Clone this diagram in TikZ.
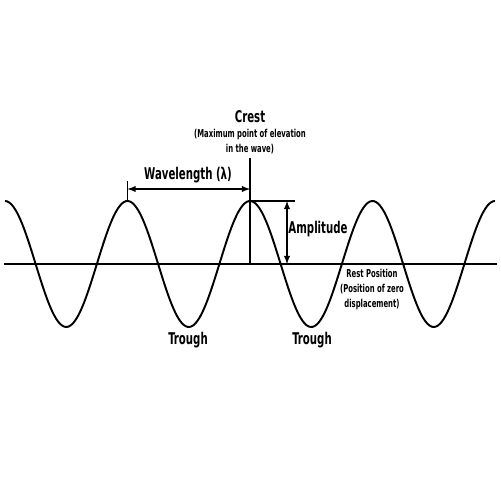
\documentclass[tikz,border=0pt]{standalone}
\usepackage{fontspec}
\newfontfamily\labelfont{DejaVu Sans Condensed Bold}[FakeStretch=0.7]
\usetikzlibrary{arrows.meta,positioning,calc}
\tikzset{>=latex}
\tikzset{
    big/.style={font=\labelfont\fontsize{9.2}{11}\selectfont,inner sep=0pt},
    small/.style={font=\labelfont\fontsize{6.2}{8.4}\selectfont,inner sep=0pt,align=center},
    guide/.style={line width=0.6pt},
    thick line/.style={line width=1.1pt}
}
\begin{document}
\begin{tikzpicture}[x=0.02cm,y=-0.02cm]

    \def\xStart{5}
    \def\xEnd{495}
    \def\yRest{264}
    \def\amp{63}
    \def\degPerPx{2.93878}
    \def\xCrestA{127.5}
    \def\xCrestB{250}

    \useasboundingbox (0,0) rectangle (500,500);

    % wave and rest line
    \draw[thick line] plot[domain=\xStart:\xEnd,samples=240,smooth]
        (\x,{\yRest-\amp*cos(\degPerPx*(\x-\xStart))});
    \draw[thick line] (4,\yRest) -- (497,\yRest);

    \coordinate (crestA) at (\xCrestA,\yRest-\amp);
    \coordinate (crestB) at (\xCrestB,\yRest-\amp);
    \coordinate (restB) at (\xCrestB,\yRest);
    \coordinate (tickA) at (\xCrestA,181);
    \coordinate (tickB) at (\xCrestB,158);
    \coordinate (ampEnd) at (295,\yRest-\amp);
    \coordinate (ampTop) at (287,\yRest-\amp);
    \coordinate (ampBot) at (287,\yRest);
    \coordinate (waveA) at (\xCrestA,189);
    \coordinate (waveB) at (\xCrestB,189);

    \node[big] at (250,117) (crest) {Crest};
    \node[small] at (250,141.5) (crestnote) {(Maximum point of elevation\\in the wave)};
    \node[big] at (188,175) (wavelength) {Wavelength (λ)};
    \node[big] at (318,229) (amplitude) {Amplitude};
    \node[small] at (372,289.5) (rest) {Rest Position\\(Position of zero\\displacement)};
    \node[big] at (188,340) (troughA) {Trough};
    \node[big] at (312,340) (troughB) {Trough};

    \draw[guide] (tickA) -- (crestA);
    \draw[guide] (tickB) -- (restB);
    \draw[guide,<->] (waveA) -- (waveB);
    \draw[guide] (crestB) -- (ampEnd);
    \draw[guide,<->] (ampTop) -- (ampBot);

\end{tikzpicture}
\end{document}
